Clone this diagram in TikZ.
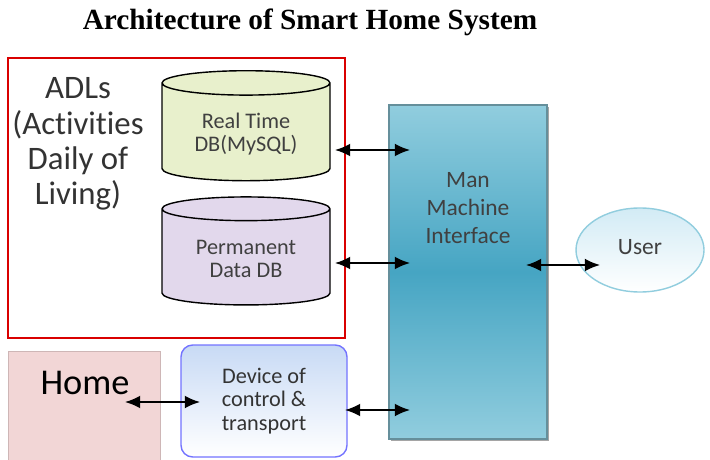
\documentclass[tikz,border=0pt]{standalone}
\usepackage{fontspec}
\setmainfont[Ligatures=NoCommon]{Carlito}
\newfontfamily\titlefont{Liberation Serif}
\usetikzlibrary{arrows.meta,shapes.geometric,shadows}
\definecolor{lg}{RGB}{232,240,204}
\definecolor{lv}{RGB}{226,216,236}
\definecolor{tealdark}{RGB}{70,165,195}
\definecolor{teallight}{RGB}{145,205,222}
\definecolor{pinkhome}{RGB}{242,214,214}
\definecolor{bluedev}{RGB}{200,218,245}
\definecolor{userfill}{RGB}{210,235,245}
\newlength{\px}
\setlength{\px}{0.03cm}
\tikzstyle{db} = [cylinder, shape border rotate=90, aspect=0.22, draw=black,
  line width=1.2pt, minimum width=168\px, font=\fontsize{19}{20}\selectfont,
  align=center, text=black!75]
\tikzstyle{link} = [{Latex[length=13pt,width=11pt]}-{Latex[length=13pt,width=11pt]},
  line width=1.6pt]
\begin{document}
\begin{tikzpicture}[x=0.03cm, y=-0.03cm]
    \useasboundingbox (0,0) rectangle (710,460);
    \node[font=\titlefont\bfseries\fontsize{25}{28}\selectfont] (title) at (310,22)
    {Architecture of Smart Home System};

    \draw[red!85!black, line width=1.4pt] (8,58) rectangle (345,338);
    \node[align=center, font=\fontsize{28}{30}\selectfont, text=black!80] (adl)
    at (78,144) {ADLs\\(Activities\\Daily of\\Living)};

    \node[db, fill=lg, minimum height=110\px] (rtdb) at (246,134)
    {Real Time\\DB(MySQL)};
    \node[db, fill=lv, minimum height=108\px] (pdb) at (246,259)
    {Permanent\\Data DB};

    \node[draw=teallight!70!black, line width=1pt, top color=teallight,
    bottom color=teallight, middle color=tealdark, minimum width=158\px,
    minimum height=334\px, drop shadow={shadow xshift=2pt,
    shadow yshift=-2pt, fill=black!70}] (mmi) at (468,272) {};
    \node[align=center, font=\fontsize{20}{24}\selectfont, text=black!75]
    (mmitext) at (468,208) {Man\\Machine\\Interface};

    \node[ellipse, draw=teallight, line width=1.2pt, top color=userfill,
    bottom color=white, minimum width=128\px,
    minimum height=84\px] (user) at (640,250) {};
    \node[font=\fontsize{20}{22}\selectfont, text=black!75] (usertext)
    at (640,247) {User};

    \node[fill=pinkhome, draw=pinkhome!85!black, minimum width=152\px,
    minimum height=110\px] (home) at (84,406) {};
    \node[font=\fontsize{31}{34}\selectfont] (hometext) at (85,383) {Home};

    \node[draw=blue!55, line width=1.2pt, rounded corners=10pt, top color=bluedev,
    bottom color=white, minimum width=166\px,
    minimum height=112\px, align=center,
    font=\fontsize{19}{20}\selectfont, text=black!80] (dev) at (264,401)
    {Device of\\control \&\\transport};

    \coordinate (a1) at (410,150);
    \coordinate (a2) at (410,263);
    \coordinate (a3) at (410,410);
    \coordinate (h1) at (125,402);
    \coordinate (u1) at (526,265);
    \coordinate (r1) at (335,150);
    \coordinate (p1) at (335,263);
    \coordinate (d1) at (345,410);
    \coordinate (d2) at (200,402);
    \coordinate (u2) at (600,265);

    \draw[link] (r1) -- (a1);
    \draw[link] (p1) -- (a2);
    \draw[link] (d1) -- (a3);
    \draw[link] (h1) -- (d2);
    \draw[link] (u1) -- (u2);
\end{tikzpicture}
\end{document}
